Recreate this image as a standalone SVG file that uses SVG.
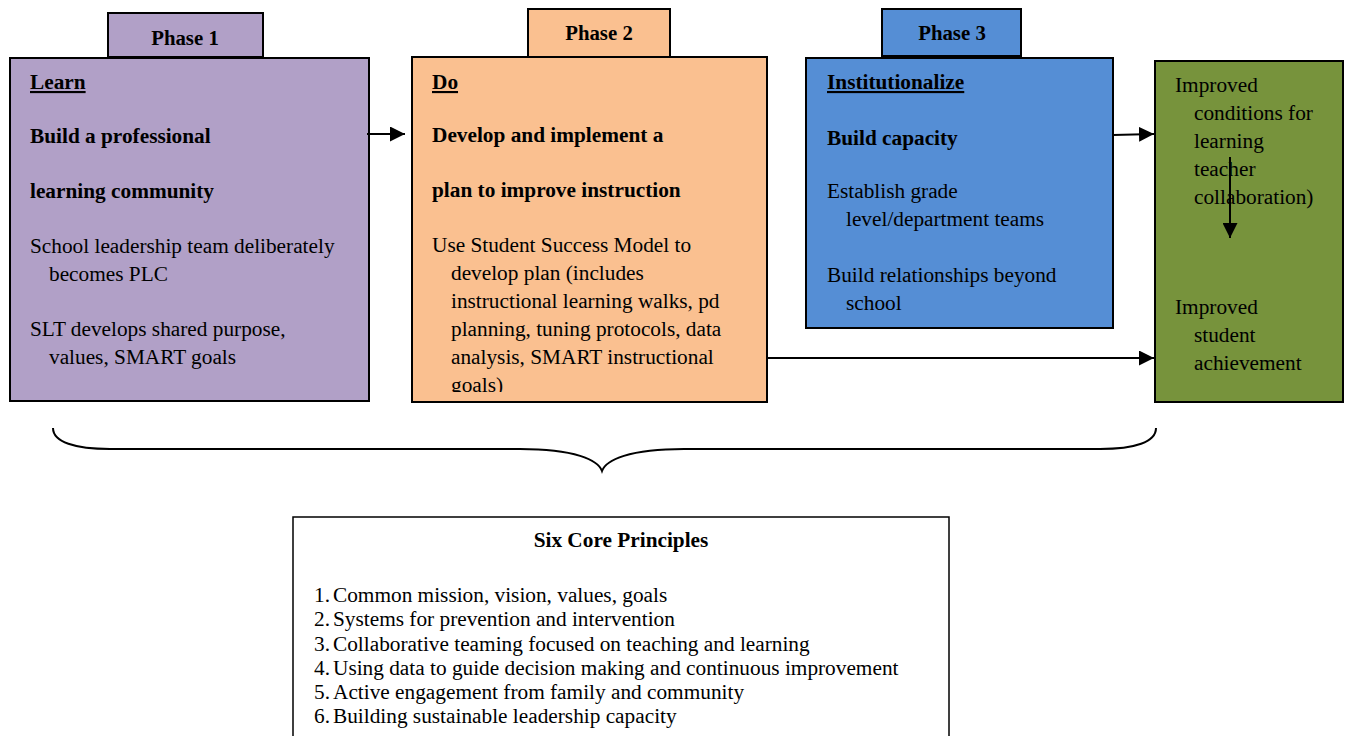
<svg xmlns="http://www.w3.org/2000/svg" width="1345" height="736" viewBox="0 0 1345 736">
<style>
text{font-family:'Liberation Serif','Times New Roman',serif;font-size:21.3px;fill:#000}
.b{font-weight:bold}
.u{text-decoration:underline}
.ph{font-weight:bold;font-size:20.8px;text-anchor:middle}
.box{stroke:#000;stroke-width:2}
.ln{stroke:#000;stroke-width:2;fill:none}
</style>
<defs>
<marker id="ah" viewBox="0 0 10 10" refX="10" refY="5" markerWidth="7.5" markerHeight="7.5" orient="auto" markerUnits="strokeWidth">
<path d="M0,0 L10,5 L0,10 z" fill="#000"/>
</marker>
<clipPath id="c2"><rect x="412" y="58" width="354" height="334"/></clipPath>
</defs>
<rect width="1345" height="736" fill="#fff"/>
<g id="phase1">
<rect class="box" x="108" y="13" width="155" height="44" fill="#B1A0C7"/>
<text class="ph" x="185" y="45">Phase 1</text>
<rect class="box" x="10" y="58" width="359" height="343" fill="#B1A0C7"/>
<text class="b u" x="30" y="89">Learn</text>
<text class="b" x="30" y="143">Build a professional</text>
<text class="b" x="30" y="198">learning community</text>
<text x="30" y="253">School leadership team deliberately</text>
<text x="49" y="281">becomes PLC</text>
<text x="30" y="336">SLT develops shared purpose,</text>
<text x="49" y="364">values, SMART goals</text>
</g>
<g id="phase2">
<rect class="box" x="528" y="9" width="142" height="48" fill="#FAC090"/>
<text class="ph" x="599" y="40">Phase 2</text>
<rect class="box" x="412" y="57" width="355" height="345" fill="#FAC090"/>
<text class="b u" x="432" y="89">Do</text>
<text class="b" x="432" y="142">Develop and implement a</text>
<text class="b" x="432" y="197">plan to improve instruction</text>
<text x="432" y="252">Use Student Success Model to</text>
<text x="451" y="280">develop plan (includes</text>
<text x="451" y="308">instructional learning walks, pd</text>
<text x="451" y="336">planning, tuning protocols, data</text>
<text x="451" y="364">analysis, SMART instructional</text>
<text x="451" y="392" clip-path="url(#c2)">goals)</text>
</g>
<g id="phase3">
<rect class="box" x="882" y="9" width="139" height="47" fill="#558ED5"/>
<text class="ph" x="952" y="40">Phase 3</text>
<rect class="box" x="806" y="58" width="307" height="270" fill="#558ED5"/>
<text class="b u" x="827" y="89">Institutionalize</text>
<text class="b" x="827" y="145">Build capacity</text>
<text x="827" y="198">Establish grade</text>
<text x="846" y="226">level/department teams</text>
<text x="827" y="282">Build relationships beyond</text>
<text x="846" y="310">school</text>
</g>
<g id="outcomes">
<rect class="box" x="1155" y="61" width="188" height="341" fill="#77933C"/>
<text x="1175" y="92">Improved</text>
<text x="1194" y="120">conditions for</text>
<text x="1194" y="148">learning</text>
<text x="1194" y="176">teacher</text>
<text x="1194" y="204">collaboration)</text>
<text x="1175" y="314">Improved</text>
<text x="1194" y="342">student</text>
<text x="1194" y="370">achievement</text>
</g>
<g id="principles">
<rect x="293" y="517" width="656" height="230" fill="#fff" stroke="#000" stroke-width="1.5"/>
<text class="b" x="621" y="547" text-anchor="middle">Six Core Principles</text>
<text x="314" y="602">1.</text><text x="333" y="602">Common mission, vision, values, goals</text>
<text x="314" y="626">2.</text><text x="333" y="626">Systems for prevention and intervention</text>
<text x="314" y="651">3.</text><text x="333" y="651">Collaborative teaming focused on teaching and learning</text>
<text x="314" y="675">4.</text><text x="333" y="675">Using data to guide decision making and continuous improvement</text>
<text x="314" y="699">5.</text><text x="333" y="699">Active engagement from family and community</text>
<text x="314" y="723">6.</text><text x="333" y="723">Building sustainable leadership capacity</text>
</g>
<g id="connectors">
<line class="ln" x1="367" y1="134" x2="405" y2="134" marker-end="url(#ah)"/>
<line class="ln" x1="1113" y1="135" x2="1154" y2="134" marker-end="url(#ah)"/>
<line class="ln" x1="767" y1="358" x2="1154" y2="358" marker-end="url(#ah)"/>
<line class="ln" x1="1230" y1="157" x2="1230" y2="238" marker-end="url(#ah)"/>
<path class="ln" stroke-width="1.5" d="M53,428 C53,442 75,449 110,449 L520,449 C575,449 598,460 602,471 C606,460 629,449 684,449 L1100,449 C1135,449 1156,442 1156,428"/>
</g>
</svg>
